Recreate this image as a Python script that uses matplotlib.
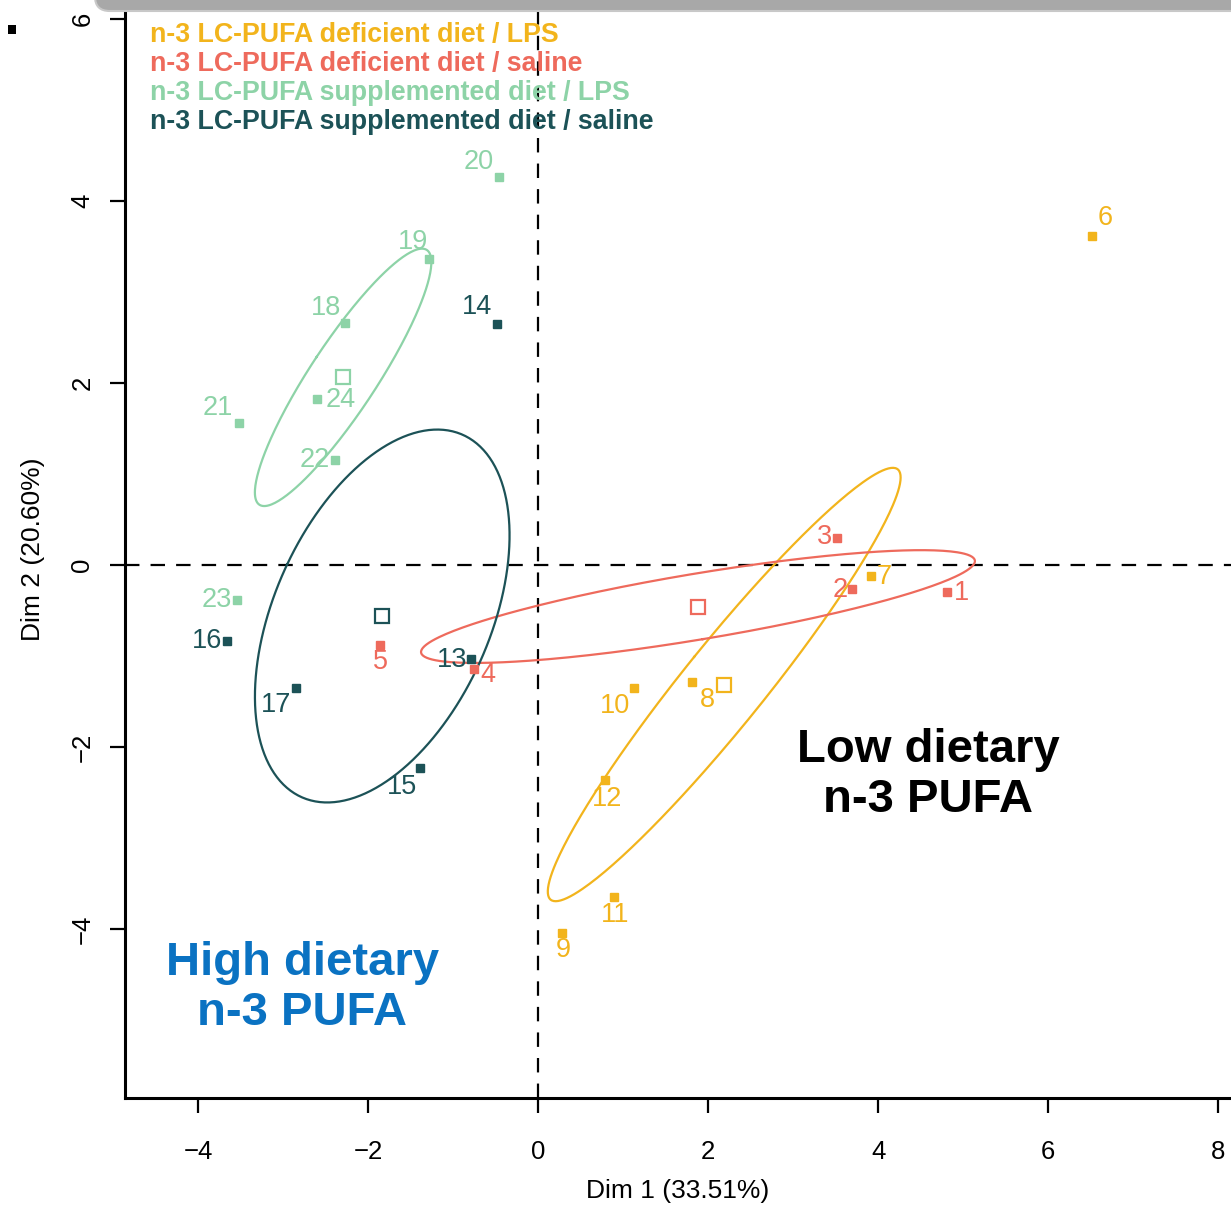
import numpy as np
import matplotlib
matplotlib.use("Agg")
import matplotlib.pyplot as plt
from matplotlib.patches import Rectangle, FancyBboxPatch

plt.rcParams['font.family'] = ['Liberation Sans', 'DejaVu Sans']

# ---- data: PCA individual coordinates by group ----
groups = [
    "n-3 LC-PUFA deficient diet / LPS",
    "n-3 LC-PUFA deficient diet / saline",
    "n-3 LC-PUFA supplemented diet / LPS",
    "n-3 LC-PUFA supplemented diet / saline",
]
colors = ["#F2B41C", "#EE6A5C", "#8DD3A7", "#1C5257"]

def_lps_ids = ["6", "7", "8", "9", "10", "11", "12"]
def_lps_x = [6.51, 3.91, 1.81, 0.28, 1.13, 0.89, 0.79]
def_lps_y = [3.62, -0.12, -1.29, -4.04, -1.35, -3.65, -2.36]

def_sal_ids = ["1", "2", "3", "4", "5"]
def_sal_x = [4.81, 3.69, 3.51, -0.75, -1.86]
def_sal_y = [-0.30, -0.26, 0.30, -1.14, -0.88]

sup_lps_ids = ["18", "19", "20", "21", "22", "23", "24"]
sup_lps_x = [-2.27, -1.28, -0.46, -3.52, -2.39, -3.54, -2.60]
sup_lps_y = [2.66, 3.36, 4.27, 1.56, 1.15, -0.38, 1.82]

sup_sal_ids = ["13", "14", "15", "16", "17"]
sup_sal_x = [-0.79, -0.48, -1.39, -3.66, -2.85]
sup_sal_y = [-1.03, 2.65, -2.23, -0.84, -1.35]

xlabel = "Dim 1 (33.51%)"
ylabel = "Dim 2 (20.60%)"
x_ticks = [-4, -2, 0, 2, 4, 6, 8]
y_ticks = [-4, -2, 0, 2, 4, 6]

# label offsets in pixels (dx right, dy down) relative to each point
label_offsets = {
    "6": (14, -18), "7": (14, 1), "8": (15, 18), "9": (1, 17), "10": (-19, 18),
    "11": (1, 18), "12": (2, 19),
    "1": (14, 1), "2": (-12, 1), "3": (-12, -1), "4": (13, 6), "5": (0, 17),
    "18": (-19, -15), "19": (-16, -17), "20": (-20, -15), "21": (-21, -15),
    "22": (-20, 0), "23": (-20, 0), "24": (24, 1),
    "13": (-19, 1), "14": (-20, -17), "15": (-18, 19), "16": (-20, 0), "17": (-20, 17),
}

series = [
    (def_lps_ids, def_lps_x, def_lps_y),
    (def_sal_ids, def_sal_x, def_sal_y),
    (sup_lps_ids, sup_lps_x, sup_lps_y),
    (sup_sal_ids, sup_sal_x, sup_sal_y),
]

W, H, DPI = 1231, 1210, 100
fig = plt.figure(figsize=(W / DPI, H / DPI), dpi=DPI)
ax = fig.add_axes([125 / W, (H - 1098) / H, 1 - 125 / W, 1098 / H])
ax.set_xlim(-4.86, 8.15)
ax.set_ylim(-5.857, 6.21)

# reference lines through the origin
ax.axhline(0, color="black", lw=1.6, ls=(0, (6.5, 5)), zorder=1)
ax.axvline(0, color="black", lw=1.6, ls=(0, (6.5, 5)), zorder=1)

# 95% confidence ellipses around each group barycentre
t = np.sqrt(-2 * np.log(1 - 0.95))
theta = np.linspace(0, 2 * np.pi, 300)
for (ids, xs, ys), col in zip(series, colors):
    pts = np.column_stack([xs, ys])
    centre = pts.mean(axis=0)
    cov = np.cov(pts.T) / len(pts)
    vals, vecs = np.linalg.eigh(cov)
    circle = np.vstack([np.cos(theta), np.sin(theta)])
    ell = vecs @ (np.sqrt(vals)[:, None] * circle) * t
    ax.plot(centre[0] + ell[0], centre[1] + ell[1], color=col, lw=1.6, zorder=2)
    ax.plot(centre[0], centre[1], marker="s", ms=10, mfc="white", mec=col,
            mew=1.6, ls="none", zorder=4)

# individuals with their labels
for (ids, xs, ys), col in zip(series, colors):
    ax.plot(xs, ys, marker="s", ms=5.5, color=col, ls="none", zorder=3)
    for lab, x, y in zip(ids, xs, ys):
        dx, dy = label_offsets[lab]
        ax.annotate(lab, (x, y), xytext=(dx * 0.72, -dy * 0.72),
                    textcoords="offset points", ha="center", va="center",
                    color=col, fontsize=19.5, zorder=5)

# group legend in the upper-left corner
for i, (g, col) in enumerate(zip(groups, colors)):
    ax.text(150 / W, 1 - (35 + 29 * i) / H, g, transform=fig.transFigure,
            color=col, fontsize=19.3, fontweight="bold", ha="left", va="center")

# annotations
fig.text(928 / W, 1 - 775 / H, "Low dietary\nn-3 PUFA", ha="center", va="center",
         fontsize=34, fontweight="bold", color="black", linespacing=1.15)
fig.text(302 / W, 1 - 988 / H, "High dietary\nn-3 PUFA", ha="center", va="center",
         fontsize=34, fontweight="bold", color="#0A72C2", linespacing=1.15)

# axes styling: left and bottom spines only
for s in ["top", "right"]:
    ax.spines[s].set_visible(False)
for s in ["left", "bottom"]:
    ax.spines[s].set_linewidth(2.2)
ax.set_xticks(x_ticks)
ax.set_yticks(y_ticks)
ax.set_xticklabels([f"\u2212{abs(v)}" if v < 0 else str(v) for v in x_ticks])
ax.set_yticklabels([f"\u2212{abs(v)}" if v < 0 else str(v) for v in y_ticks],
                   rotation=90, va="center")
ax.tick_params(axis="both", length=11, width=1.6, labelsize=18.5, direction="out")
ax.tick_params(axis="x", pad=19)
ax.tick_params(axis="y", pad=11)
ax.set_xlabel(xlabel, fontsize=19, labelpad=11)
ax.set_ylabel(ylabel, fontsize=19, labelpad=18)

# frame band along the top edge and a small square mark at left
fig.patches.append(FancyBboxPatch((95 / W, 1 - 11 / H), 1, 30 / H,
                                  boxstyle="round,pad=0,rounding_size=0.012",
                                  transform=fig.transFigure, facecolor="#A8A8A8",
                                  edgecolor="#C8C8C8", lw=1.5, zorder=10))
fig.patches.append(Rectangle((8 / W, 1 - 34 / H), 8 / W, 9 / H, transform=fig.transFigure,
                             facecolor="black", edgecolor="none"))

fig.savefig("out.png", dpi=DPI)
